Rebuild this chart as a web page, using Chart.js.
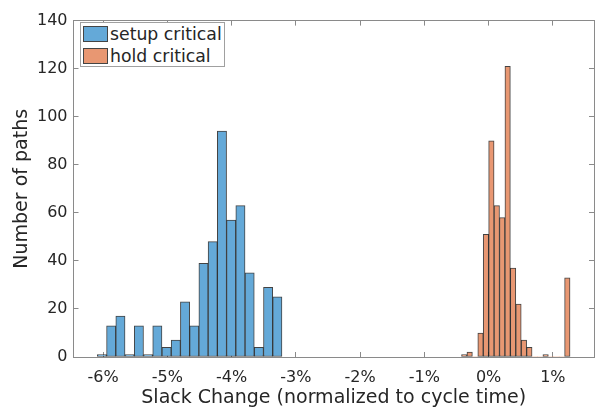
<!DOCTYPE html>
<html>
<head>
<meta charset="utf-8">
<script src="https://cdn.jsdelivr.net/npm/chart.js@4.4.1/dist/chart.umd.min.js"></script>
<style>
  html, body { margin: 0; padding: 0; background: #fff; }
  #wrap { position: relative; width: 597px; height: 412px; }
  #legend {
    position: absolute; left: 80px; top: 22px; width: 143px; height: 43px;
    border: 1px solid #a0a0a0; background: #fff;
    font: 17.3px "DejaVu Sans", sans-serif; color: #262626;
  }
  .item { display: flex; align-items: center; height: 21px; padding-left: 2px; margin-top: 0.5px; }
  .sw { width: 23px; height: 14px; border: 1px solid #444; margin-right: 2px; }
</style>
</head>
<body>
<div id="wrap">
  <canvas id="chart" width="597" height="412"></canvas>
  <div id="legend"></div>
</div>
<script>
// histogram: bin range (percent of cycle time) and counts per bin
const setupRange = [-6.089, -3.216];
const setupCounts = [1, 13, 17, 1, 13, 1, 13, 4, 7, 23, 13, 39, 48, 94, 57, 63, 35, 4, 29, 25];
const holdRange = [-0.4215, 1.267];
const holdCounts = [1, 2, 0, 10, 51, 90, 63, 58, 121, 37, 22, 7, 4, 0, 0, 1, 0, 0, 0, 33];

const seriesNames = ['setup critical', 'hold critical'];
const seriesColors = ['rgb(100,169,216)', 'rgb(232,151,114)'];
const xLimits = [-6.46, 1.64];
const yLimits = [0, 140];

function toBins(range, counts) {
    const w = (range[1] - range[0]) / counts.length;
    return counts.map((c, i) => ({ x: range[0] + (i + 0.5) * w, y: c }));
}

const axisColor = '#8a8a8a';
const textColor = '#262626';
const tickFont = { family: 'DejaVu Sans', size: 16 };
const titleFont = { family: 'DejaVu Sans', size: 19 };

function xAxis(extra) {
    return Object.assign({
        type: 'linear', min: xLimits[0], max: xLimits[1], offset: false,
        grid: { drawOnChartArea: false, offset: false, tickLength: -5, color: axisColor },
        border: { color: axisColor },
        ticks: { stepSize: 1, includeBounds: false },
        z: 1,
    }, extra);
}

// legend
const legend = document.getElementById('legend');
legend.innerHTML = seriesNames.map((n, i) =>
    `<div class="item"><span class="sw" style="background:${seriesColors[i]}"></span>${n}</div>`
).join('');

const edge = ctx => (ctx.raw && ctx.raw.y > 0 ? 1 : 0);
const barStyle = {
    borderColor: 'rgba(20,20,20,0.8)', borderWidth: edge, borderSkipped: false,
    barPercentage: 1, categoryPercentage: 1, grouped: false,
};

new Chart(document.getElementById('chart'), {
    type: 'bar',
    data: {
        datasets: [
            Object.assign({ label: seriesNames[0], data: toBins(setupRange, setupCounts), xAxisID: 'x',
                backgroundColor: seriesColors[0] }, barStyle),
            Object.assign({ label: seriesNames[1], data: toBins(holdRange, holdCounts), xAxisID: 'xo',
                backgroundColor: seriesColors[1] }, barStyle),
        ]
    },
    options: {
        responsive: false,
        animation: false,
        devicePixelRatio: 1,
        layout: { padding: { top: 15, right: 3 } },
        plugins: { legend: { display: false }, tooltip: { enabled: false } },
        scales: {
            x: xAxis({
                position: 'bottom',
                ticks: {
                    stepSize: 1, includeBounds: false, padding: 16,
                    color: textColor, font: tickFont,
                    maxRotation: 0, callback: v => v + '%',
                },
                title: {
                    display: true, text: 'Slack Change (normalized to cycle time)',
                    color: textColor, font: titleFont,
                    padding: { top: 0, bottom: 3 },
                },
                afterFit: s => { s.height = 55; },
            }),
            xo: xAxis({ position: 'bottom', display: false }),
            x2: xAxis({
                position: 'top',
                ticks: { stepSize: 1, includeBounds: false, display: false },
                afterFit: s => { s.height = 0; },
            }),
            y: {
                min: yLimits[0], max: yLimits[1], position: 'left',
                grid: { drawOnChartArea: false, tickLength: -5, color: axisColor },
                border: { color: axisColor },
                ticks: { stepSize: 20, padding: 11, color: textColor, font: tickFont },
                title: {
                    display: true, text: 'Number of paths',
                    color: textColor, font: titleFont,
                    padding: { top: 11, bottom: 0 },
                },
                afterFit: s => { s.width = 73.5; },
                z: 1,
            },
            y2: {
                min: yLimits[0], max: yLimits[1], position: 'right',
                grid: { drawOnChartArea: false, tickLength: -5, color: axisColor },
                border: { color: axisColor },
                ticks: { stepSize: 20, display: false },
                afterFit: s => { s.width = 0; },
                z: 1,
            },
        }
    }
});
</script>
</body>
</html>
